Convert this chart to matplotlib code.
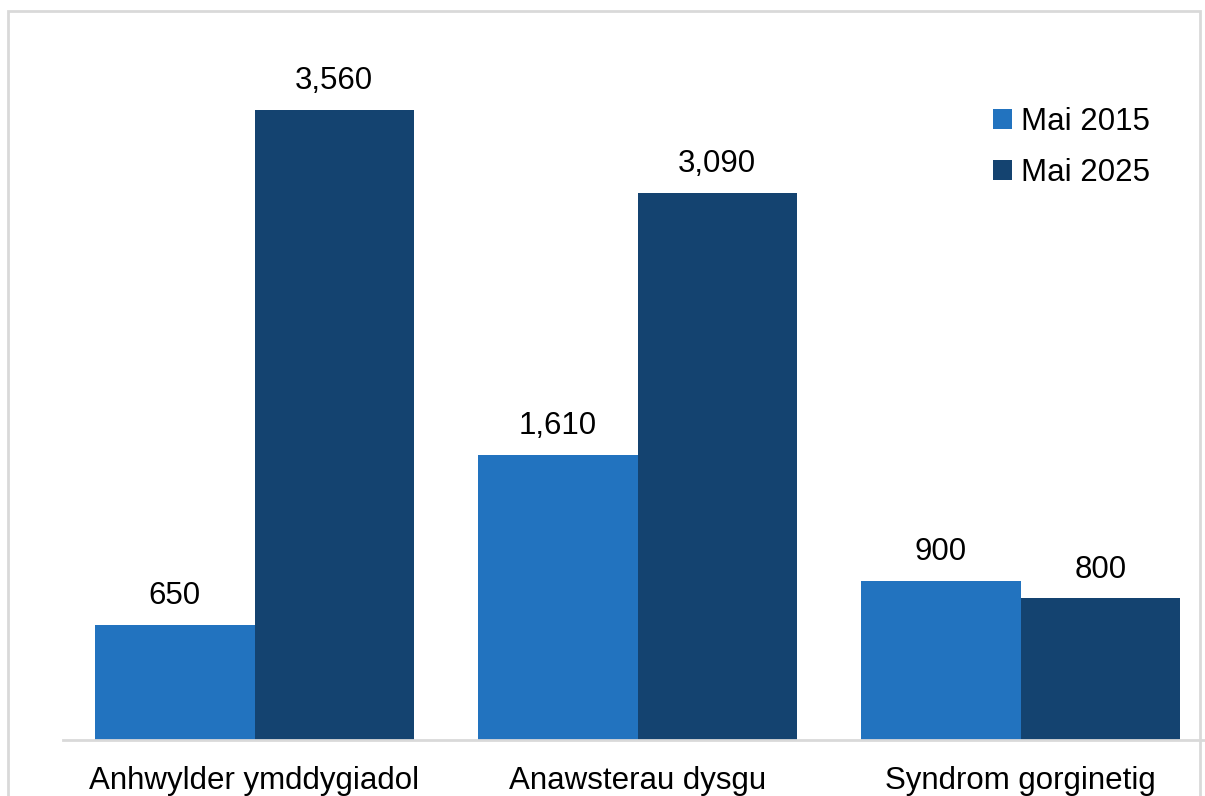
import matplotlib
matplotlib.use("Agg")
import numpy as np
from matplotlib import pyplot as plt
from matplotlib.patches import Rectangle

plt.rcParams['font.family'] = ['Liberation Sans', 'DejaVu Sans']

# dados do grafico
categorias = ["Anhwylder ymddygiadol", "Anawsterau dysgu", "Syndrom gorginetig"]
serie2015 = [650, 1610, 900]
serie2025 = [3560, 3090, 800]
nomesSeries = ["Mai 2015", "Mai 2025"]

cor2015 = "#2273BF"
cor2025 = "#144370"

W, H = 1205, 796
fig = plt.figure(figsize=(W / 100, H / 100), dpi=100)

# moldura cinza em volta do grafico
fig.patches.append(Rectangle((8 / W, -0.1), (1200 - 8) / W, 1.1 - 11 / H,
                             transform=fig.transFigure, fill=False,
                             edgecolor="#d9d9d9", linewidth=2))

ax = fig.add_axes([63 / W, (H - 740) / H, (1212 - 63) / W, (740 - 32) / H])

x = np.arange(len(categorias))
largura = 0.4165
b1 = ax.bar(x - largura / 2, serie2015, largura, color=cor2015, label=nomesSeries[0])
b2 = ax.bar(x + largura / 2, serie2025, largura, color=cor2025, label=nomesSeries[1])

for barras in (b1, b2):
    ax.bar_label(barras, labels=[f"{v:,}" for v in barras.datavalues],
                 padding=10, fontsize=22.5)

ax.set_xlim(-0.5, 2.5)
ax.set_ylim(0, 4000)
ax.set_xticks(x)
ax.set_xticklabels(categorias, fontsize=22.5)
ax.tick_params(axis="x", length=0, pad=19)
ax.set_yticks([])
for lado in ["top", "right", "left"]:
    ax.spines[lado].set_visible(False)
ax.spines["bottom"].set_color("#d9d9d9")
ax.spines["bottom"].set_linewidth(2)

ax.legend(loc="upper left", bbox_to_anchor=(965 / W, 1 - 79 / H),
          bbox_transform=fig.transFigure, frameon=False, fontsize=22.5,
          handlelength=0.6, handleheight=0.6, handletextpad=0.3,
          labelspacing=0.68)

fig.savefig("out.png", dpi=100)
